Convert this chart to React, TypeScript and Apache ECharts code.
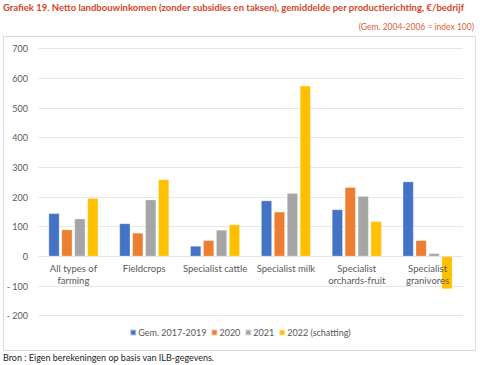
import React, { useEffect, useRef } from "react";
import * as echarts from "echarts";

const categories = [
  "All types of\nfarming",
  "Fieldcrops",
  "Specialist cattle",
  "Specialist milk",
  "Specialist\norchards-fruit",
  "Specialist\ngranivores",
];
const seriesNames = ["Gem. 2017-2019", "2020", "2021", "2022 (schatting)"];
const gem2017_2019 = [145, 111, 35, 188, 158, 252];
const v2020 = [90, 79, 54, 150, 233, 54];
const v2021 = [127, 191, 89, 213, 203, 10];
const v2022 = [196, 259, 107, 575, 118, -110];
const colors = ["#4472C4", "#ED7D31", "#A5A5A5", "#FFC000"];
const yMin = -200;
const yMax = 700;

const FONT = "Lato, 'Open Sans', sans-serif";

export default function App() {
  const ref = useRef<HTMLDivElement>(null);
  useEffect(() => {
    const chart = echarts.init(ref.current!, null, { renderer: "svg" });
    const data = [gem2017_2019, v2020, v2021, v2022];
    const gridTop = 48.7;
    const gridBottom = 49.3;
    const plotH = 365 - gridTop - gridBottom;
    const zeroOffset = -(plotH * (0 - yMin)) / (yMax - yMin);
    chart.setOption({
      animation: false,
      textStyle: { fontFamily: FONT },
      graphic: [
        {
          type: "rect",
          shape: { x: 3.5, y: 36.5, width: 472, height: 314 },
          style: { fill: "none", stroke: "#d9d9d9", lineWidth: 1 },
          z: -1,
        },
        {
          type: "text",
          left: 3,
          top: 2,
          style: {
            text: "Grafiek 19. Netto landbouwinkomen (zonder subsidies en taksen), gemiddelde per productierichting, €/bedrijf",
            fill: "#d5451f",
            font: `bold 9.5px ${FONT}`,
          },
        },
        {
          type: "text",
          right: 6,
          top: 22,
          style: {
            text: "(Gem. 2004-2006 = index 100)",
            fill: "#e0603a",
            font: `8.5px ${FONT}`,
          },
        },
        {
          type: "text",
          left: 3,
          top: 353,
          style: {
            text: "Bron : Eigen berekeningen op basis van ILB-gegevens.",
            fill: "#222",
            font: `9px ${FONT}`,
          },
        },
      ],
      grid: { left: 38, right: 17, top: gridTop, bottom: gridBottom, containLabel: false },
      legend: {
        bottom: 23,
        left: "center",
        itemWidth: 6,
        itemHeight: 6,
        itemGap: 4,
        icon: "rect",
        textStyle: { fontSize: 9, color: "#595959", fontFamily: FONT, padding: [0, 0, 0, -3] },
        data: seriesNames,
      },
      xAxis: {
        type: "category",
        data: categories,
        offset: zeroOffset,
        axisLine: { show: false, onZero: false },
        axisTick: { show: false },
        axisLabel: {
          color: "#595959",
          fontSize: 9.5,
          lineHeight: 12,
          margin: 6,
          interval: 0,
          fontFamily: FONT,
        },
        z: 10,
      },
      yAxis: {
        type: "value",
        min: yMin,
        max: yMax,
        interval: 100,
        axisLine: { show: false },
        axisTick: { show: false },
        splitLine: { lineStyle: { color: "#e6e6e6", width: 1 } },
        axisLabel: {
          color: "#595959",
          fontSize: 9,
          margin: 10,
          fontFamily: FONT,
          formatter: (v: number) => (v < 0 ? "- " + -v : String(v)),
        },
      },
      series: seriesNames.map((name, i) => ({
        name,
        type: "bar",
        data: data[i],
        itemStyle: { color: colors[i], borderColor: "rgba(255,255,255,0.6)", borderWidth: 0.5 },
        barGap: "20%",
        barCategoryGap: "30%",
        z: 3,
      })),
    });
    return () => chart.dispose();
  }, []);
  return (
    <div
      ref={ref}
      style={{ width: 480, height: 365, position: "fixed", left: 0, top: 0, background: "#fff" }}
    />
  );
}
